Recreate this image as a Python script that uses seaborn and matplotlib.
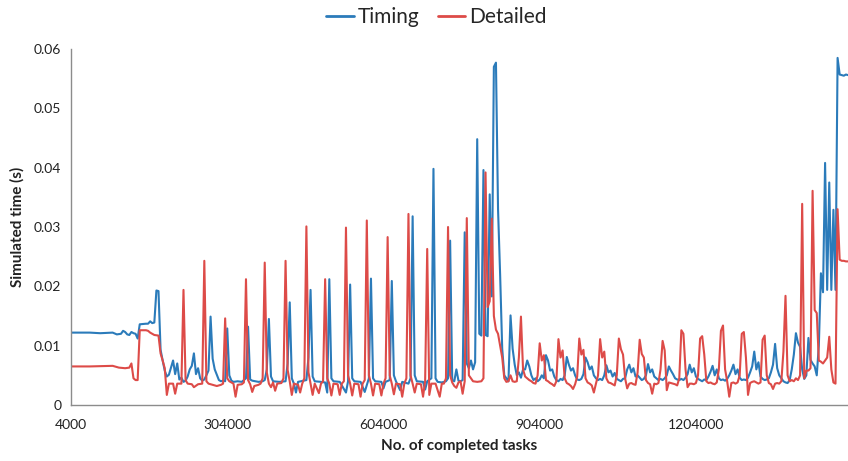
import numpy as np
import pandas as pd
import matplotlib
matplotlib.use("Agg")
import matplotlib.pyplot as plt
import seaborn as sns

# completed tasks (thousands) and simulated time (s)
timing_k = [4, 20, 40, 60, 84, 92, 100, 104, 108, 112, 116, 120, 124, 128, 132, 136, 148, 152, 156, 160,
            164, 168, 172, 176, 180, 184, 188, 192, 196, 200, 204, 208, 212, 216, 220, 224, 228, 232, 236, 240,
            244, 248, 252, 256, 260, 264, 268, 272, 276, 280, 284, 288, 292, 296, 300, 304, 308, 312, 316, 324,
            332, 340, 344, 348, 352, 364, 372, 376, 380, 384, 388, 392, 404, 416, 420, 424, 428, 432, 436, 440,
            456, 460, 464, 468, 472, 484, 492, 496, 500, 504, 508, 520, 532, 536, 540, 544, 548, 560, 568, 576,
            580, 584, 588, 600, 604, 608, 616, 620, 624, 628, 636, 640, 652, 656, 660, 664, 668, 680, 684, 688,
            696, 700, 704, 708, 716, 724, 728, 732, 736, 740, 744, 748, 752, 756, 760, 764, 768, 772, 776, 780,
            784, 788, 792, 796, 800, 804, 808, 812, 816, 820, 824, 828, 832, 836, 840, 844, 848, 852, 856, 860,
            864, 868, 872, 876, 880, 884, 888, 892, 896, 900, 904, 908, 912, 916, 920, 924, 928, 932, 936, 940,
            944, 948, 952, 956, 960, 964, 968, 972, 976, 980, 984, 988, 992, 996, 1000, 1004, 1008, 1012, 1016, 1020,
            1024, 1028, 1032, 1036, 1040, 1044, 1048, 1052, 1056, 1060, 1064, 1068, 1072, 1076, 1080, 1084, 1088, 1092, 1096, 1100,
            1104, 1108, 1112, 1116, 1120, 1124, 1128, 1132, 1136, 1140, 1144, 1148, 1152, 1156, 1160, 1164, 1168, 1172, 1176, 1180,
            1184, 1188, 1192, 1196, 1200, 1204, 1208, 1212, 1216, 1220, 1224, 1228, 1232, 1236, 1240, 1244, 1248, 1252, 1256, 1260,
            1264, 1268, 1272, 1276, 1280, 1284, 1288, 1292, 1296, 1300, 1304, 1308, 1312, 1316, 1320, 1324, 1328, 1332, 1336, 1340,
            1344, 1348, 1352, 1356, 1360, 1364, 1368, 1372, 1376, 1380, 1384, 1388, 1392, 1396, 1400, 1404, 1408, 1412, 1416, 1420,
            1424, 1428, 1432, 1436, 1440, 1444, 1448, 1452, 1456, 1460, 1464, 1468, 1472, 1476, 1480, 1484, 1488, 1492, 1496]
timing_s = [0.0122, 0.0122, 0.0122, 0.0121, 0.0122, 0.0119, 0.0120, 0.0125, 0.0123, 0.0119, 0.0118, 0.0123, 0.0121, 0.0120, 0.0112, 0.0136, 0.0137, 0.0137, 0.0141, 0.0138,
            0.0139, 0.0193, 0.0192, 0.0093, 0.0075, 0.0058, 0.0048, 0.0051, 0.0063, 0.0075, 0.0052, 0.0070, 0.0043, 0.0046, 0.0039, 0.0041, 0.0048, 0.0060, 0.0066, 0.0087,
            0.0052, 0.0062, 0.0045, 0.0041, 0.0043, 0.0050, 0.0058, 0.0149, 0.0078, 0.0060, 0.0051, 0.0042, 0.0040, 0.0041, 0.0040, 0.0129, 0.0050, 0.0041, 0.0039, 0.0040,
            0.0039, 0.0045, 0.0132, 0.0043, 0.0041, 0.0039, 0.0040, 0.0042, 0.0060, 0.0145, 0.0048, 0.0040, 0.0039, 0.0040, 0.0070, 0.0173, 0.0045, 0.0036, 0.0021, 0.0039,
            0.0042, 0.0080, 0.0194, 0.0048, 0.0040, 0.0039, 0.0038, 0.0021, 0.0212, 0.0045, 0.0040, 0.0039, 0.0021, 0.0040, 0.0203, 0.0045, 0.0040, 0.0039, 0.0022, 0.0045,
            0.0213, 0.0045, 0.0040, 0.0039, 0.0028, 0.0039, 0.0042, 0.0209, 0.0050, 0.0040, 0.0025, 0.0039, 0.0036, 0.0045, 0.0318, 0.0050, 0.0040, 0.0039, 0.0026, 0.0040,
            0.0045, 0.0398, 0.0045, 0.0039, 0.0038, 0.0040, 0.0045, 0.0277, 0.0042, 0.0040, 0.0060, 0.0041, 0.0040, 0.0042, 0.0291, 0.0070, 0.0062, 0.0075, 0.0060, 0.0072,
            0.0448, 0.0120, 0.0117, 0.0396, 0.0118, 0.0116, 0.0355, 0.0183, 0.0570, 0.0577, 0.0330, 0.0220, 0.0095, 0.0050, 0.0045, 0.0040, 0.0151, 0.0095, 0.0068, 0.0050,
            0.0055, 0.0046, 0.0060, 0.0060, 0.0075, 0.0065, 0.0050, 0.0042, 0.0045, 0.0040, 0.0043, 0.0050, 0.0045, 0.0084, 0.0075, 0.0058, 0.0060, 0.0048, 0.0042, 0.0040,
            0.0044, 0.0042, 0.0050, 0.0081, 0.0068, 0.0058, 0.0062, 0.0050, 0.0043, 0.0042, 0.0044, 0.0052, 0.0080, 0.0072, 0.0060, 0.0065, 0.0050, 0.0045, 0.0042, 0.0044,
            0.0042, 0.0050, 0.0067, 0.0055, 0.0058, 0.0048, 0.0054, 0.0044, 0.0042, 0.0040, 0.0044, 0.0045, 0.0060, 0.0068, 0.0055, 0.0062, 0.0048, 0.0050, 0.0046, 0.0042,
            0.0044, 0.0050, 0.0069, 0.0055, 0.0060, 0.0048, 0.0045, 0.0042, 0.0044, 0.0042, 0.0045, 0.0050, 0.0065, 0.0058, 0.0052, 0.0045, 0.0043, 0.0042, 0.0044, 0.0042,
            0.0046, 0.0052, 0.0068, 0.0055, 0.0062, 0.0048, 0.0044, 0.0042, 0.0040, 0.0043, 0.0042, 0.0048, 0.0056, 0.0066, 0.0050, 0.0060, 0.0045, 0.0042, 0.0043, 0.0041,
            0.0044, 0.0050, 0.0058, 0.0068, 0.0052, 0.0060, 0.0046, 0.0042, 0.0043, 0.0042, 0.0046, 0.0055, 0.0065, 0.0090, 0.0060, 0.0072, 0.0048, 0.0044, 0.0042, 0.0043,
            0.0045, 0.0055, 0.0068, 0.0103, 0.0062, 0.0050, 0.0045, 0.0040, 0.0038, 0.0037, 0.0042, 0.0060, 0.0085, 0.0121, 0.0105, 0.0098, 0.0060, 0.0044, 0.0050, 0.0113,
            0.0076, 0.0070, 0.0065, 0.0050, 0.0100, 0.0222, 0.0190, 0.0408, 0.0194, 0.0375, 0.0194, 0.0329, 0.0194, 0.0585, 0.0557, 0.0556, 0.0555, 0.0557, 0.0556]

detailed_k = [4, 40, 84, 96, 108, 116, 120, 124, 128, 132, 136, 148, 152, 156, 164, 172, 176, 180, 184, 188,
              192, 200, 204, 208, 216, 220, 224, 228, 236, 240, 248, 256, 260, 264, 268, 276, 284, 292, 296, 300,
              304, 308, 316, 320, 324, 332, 336, 340, 344, 348, 352, 356, 364, 368, 372, 376, 380, 384, 388, 392,
              396, 400, 408, 412, 416, 420, 424, 428, 432, 440, 444, 448, 452, 456, 460, 464, 468, 472, 480, 484,
              488, 492, 496, 500, 504, 508, 516, 520, 524, 528, 532, 536, 540, 544, 548, 556, 560, 564, 568, 572,
              576, 580, 584, 588, 596, 600, 604, 608, 612, 616, 620, 624, 628, 636, 640, 644, 648, 652, 656, 660,
              664, 668, 676, 680, 684, 688, 692, 696, 704, 712, 716, 720, 724, 728, 732, 736, 740, 744, 748, 752,
              756, 760, 764, 768, 772, 776, 784, 792, 796, 800, 804, 808, 812, 816, 820, 824, 828, 832, 836, 840,
              844, 848, 852, 856, 860, 864, 868, 872, 876, 880, 884, 888, 892, 896, 900, 904, 908, 912, 916, 920,
              924, 928, 932, 936, 940, 944, 948, 952, 956, 960, 964, 968, 972, 976, 980, 984, 988, 992, 996, 1000,
              1004, 1008, 1012, 1016, 1020, 1024, 1028, 1032, 1036, 1040, 1044, 1048, 1052, 1056, 1060, 1064, 1068, 1072, 1076, 1080,
              1084, 1088, 1092, 1096, 1100, 1104, 1108, 1112, 1116, 1120, 1124, 1128, 1132, 1136, 1140, 1144, 1148, 1152, 1156, 1160,
              1164, 1168, 1172, 1176, 1180, 1184, 1188, 1192, 1196, 1200, 1204, 1208, 1212, 1216, 1220, 1224, 1228, 1232, 1236, 1240,
              1244, 1248, 1252, 1256, 1260, 1264, 1268, 1272, 1276, 1280, 1284, 1288, 1292, 1296, 1300, 1304, 1308, 1312, 1316, 1320,
              1324, 1328, 1332, 1336, 1340, 1344, 1348, 1352, 1356, 1360, 1364, 1368, 1372, 1376, 1380, 1384, 1388, 1392, 1396, 1400,
              1404, 1408, 1412, 1416, 1420, 1424, 1428, 1432, 1436, 1440, 1444, 1448, 1452, 1456, 1460, 1464, 1468, 1472, 1476, 1480,
              1484, 1488, 1492, 1496]
detailed_s = [0.0065, 0.0065, 0.0066, 0.0063, 0.0062, 0.0063, 0.0070, 0.0045, 0.0042, 0.0042, 0.0126, 0.0126, 0.0125, 0.0122, 0.0118, 0.0117, 0.0087, 0.0075, 0.0062, 0.0017,
              0.0036, 0.0036, 0.0019, 0.0036, 0.0036, 0.0194, 0.0042, 0.0036, 0.0035, 0.0030, 0.0035, 0.0036, 0.0243, 0.0040, 0.0036, 0.0034, 0.0032, 0.0034, 0.0036, 0.0146,
              0.0045, 0.0040, 0.0036, 0.0014, 0.0034, 0.0035, 0.0038, 0.0212, 0.0042, 0.0035, 0.0022, 0.0032, 0.0034, 0.0036, 0.0045, 0.0240, 0.0055, 0.0036, 0.0030, 0.0038,
              0.0024, 0.0036, 0.0037, 0.0045, 0.0243, 0.0059, 0.0040, 0.0017, 0.0036, 0.0034, 0.0021, 0.0036, 0.0045, 0.0301, 0.0055, 0.0036, 0.0017, 0.0036, 0.0020, 0.0036,
              0.0040, 0.0212, 0.0045, 0.0036, 0.0016, 0.0036, 0.0035, 0.0017, 0.0036, 0.0040, 0.0299, 0.0050, 0.0036, 0.0016, 0.0036, 0.0035, 0.0014, 0.0036, 0.0042, 0.0311,
              0.0050, 0.0036, 0.0016, 0.0036, 0.0035, 0.0016, 0.0036, 0.0045, 0.0283, 0.0050, 0.0036, 0.0018, 0.0036, 0.0035, 0.0014, 0.0036, 0.0045, 0.0322, 0.0050, 0.0036,
              0.0021, 0.0036, 0.0035, 0.0014, 0.0040, 0.0263, 0.0017, 0.0036, 0.0036, 0.0014, 0.0036, 0.0036, 0.0045, 0.0300, 0.0050, 0.0038, 0.0032, 0.0029, 0.0038, 0.0040,
              0.0019, 0.0040, 0.0315, 0.0050, 0.0045, 0.0040, 0.0039, 0.0040, 0.0045, 0.0392, 0.0165, 0.0175, 0.0314, 0.0150, 0.0127, 0.0120, 0.0100, 0.0080, 0.0045, 0.0039,
              0.0040, 0.0050, 0.0040, 0.0039, 0.0040, 0.0080, 0.0149, 0.0060, 0.0048, 0.0045, 0.0042, 0.0040, 0.0037, 0.0036, 0.0050, 0.0104, 0.0075, 0.0084, 0.0042, 0.0040,
              0.0037, 0.0035, 0.0032, 0.0040, 0.0111, 0.0080, 0.0092, 0.0045, 0.0037, 0.0035, 0.0032, 0.0027, 0.0035, 0.0048, 0.0112, 0.0085, 0.0093, 0.0045, 0.0038, 0.0036,
              0.0033, 0.0021, 0.0036, 0.0050, 0.0111, 0.0080, 0.0090, 0.0045, 0.0038, 0.0037, 0.0035, 0.0033, 0.0050, 0.0112, 0.0094, 0.0085, 0.0045, 0.0028, 0.0036, 0.0037,
              0.0035, 0.0034, 0.0055, 0.0110, 0.0086, 0.0080, 0.0042, 0.0037, 0.0035, 0.0019, 0.0036, 0.0035, 0.0037, 0.0060, 0.0108, 0.0092, 0.0025, 0.0038, 0.0037, 0.0036,
              0.0035, 0.0033, 0.0045, 0.0126, 0.0120, 0.0060, 0.0030, 0.0036, 0.0036, 0.0035, 0.0037, 0.0050, 0.0112, 0.0116, 0.0085, 0.0040, 0.0037, 0.0038, 0.0036, 0.0035,
              0.0038, 0.0060, 0.0125, 0.0134, 0.0060, 0.0040, 0.0014, 0.0037, 0.0038, 0.0036, 0.0038, 0.0050, 0.0120, 0.0123, 0.0080, 0.0017, 0.0037, 0.0039, 0.0040, 0.0038,
              0.0036, 0.0038, 0.0110, 0.0117, 0.0050, 0.0037, 0.0035, 0.0027, 0.0036, 0.0037, 0.0036, 0.0040, 0.0090, 0.0184, 0.0050, 0.0040, 0.0042, 0.0040, 0.0045, 0.0042,
              0.0050, 0.0339, 0.0045, 0.0058, 0.0058, 0.0062, 0.0361, 0.0160, 0.0155, 0.0075, 0.0073, 0.0070, 0.0075, 0.0080, 0.0115, 0.0060, 0.0038, 0.0036, 0.0330, 0.0245,
              0.0243, 0.0243, 0.0242, 0.0242]

x_ticks = [4000, 304000, 604000, 904000, 1204000]
y_ticks = [0, 0.01, 0.02, 0.03, 0.04, 0.05, 0.06]
y_tick_labels = ["0", "0.01", "0.02", "0.03", "0.04", "0.05", "0.06"]
colors = {"Timing": "#2b7bba", "Detailed": "#dd4b48"}

df = pd.concat([
    pd.DataFrame({"tasks": np.array(timing_k) * 1000, "time": timing_s, "series": "Timing"}),
    pd.DataFrame({"tasks": np.array(detailed_k) * 1000, "time": detailed_s, "series": "Detailed"}),
], ignore_index=True)

sns.set_theme(style="white")
plt.rcParams["font.family"] = ["Lato", "DejaVu Sans"]

fig = plt.figure(figsize=(8.48, 4.61), dpi=100)
ax = fig.add_axes([71 / 848, 1 - 405 / 461, 1 - 71 / 848, (405 - 49) / 461])

sns.lineplot(data=df, x="tasks", y="time", hue="series", palette=colors,
             estimator=None, sort=False, linewidth=1.5, ax=ax, legend=False)

ax.set_xlim(4000, 1496000)
ax.set_ylim(0, 0.06)
ax.set_xticks(x_ticks)
ax.set_xticklabels([str(t) for t in x_ticks])
ax.set_yticks(y_ticks)
ax.set_yticklabels(y_tick_labels)

for side in ["top", "right"]:
    ax.spines[side].set_visible(False)
for side in ["left", "bottom"]:
    ax.spines[side].set_color("#8c8c8c")
    ax.spines[side].set_linewidth(1.0)
ax.tick_params(axis="both", direction="out", length=4, width=1, color="#8c8c8c",
               labelsize=10, labelcolor="#222222", pad=3)
ax.tick_params(axis="x", pad=6)

ax.set_xlabel("No. of completed tasks", fontsize=11, fontweight="bold", color="#222222")
ax.set_ylabel("Simulated time (s)", fontsize=11, fontweight="bold", color="#222222")
ax.xaxis.set_label_coords(0.5, -0.095)
ax.yaxis.set_label_coords(-0.06, 0.5)

handles = [plt.Line2D([], [], color=colors[k], linewidth=2) for k in ["Timing", "Detailed"]]
fig.legend(handles, ["Timing", "Detailed"], loc="center", bbox_to_anchor=(0.515, 0.963),
           ncol=2, frameon=False, fontsize=15, handlelength=1.3, handletextpad=0.2,
           columnspacing=0.9)

fig.savefig("out.png", dpi=100)
